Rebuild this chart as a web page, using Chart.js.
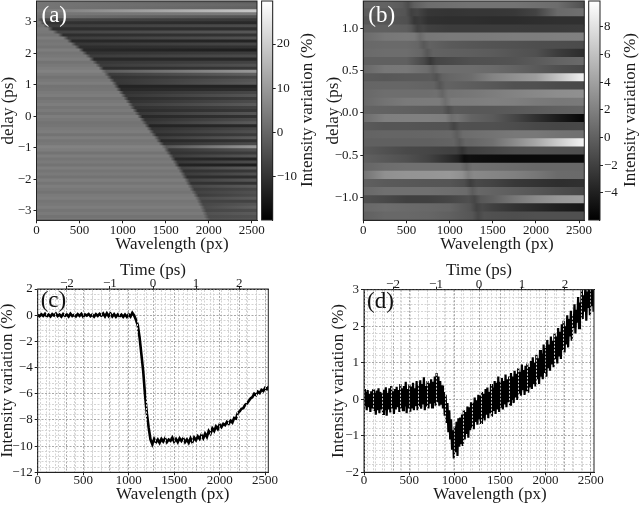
<!DOCTYPE html>
<html>
<head>
<meta charset="utf-8">
<script src="https://cdn.jsdelivr.net/npm/chart.js@4"></script>
<style>
    html, body { margin: 0; padding: 0; background: #fff; }
    #page { position: relative; width: 640px; height: 506px; overflow: hidden; }
    canvas { position: absolute; }
</style>
</head>
<body>
<div id="page">
    <canvas id="chartA" width="302" height="266" style="left:-2px;top:-10px"></canvas>
    <canvas id="barA" width="64" height="240" style="left:255px;top:-10px"></canvas>
    <canvas id="chartB" width="306" height="266" style="left:323px;top:-10px"></canvas>
    <canvas id="barB" width="59" height="240" style="left:582px;top:-10px"></canvas>
    <canvas id="chartC" width="312" height="247" style="left:-3px;top:260px"></canvas>
    <canvas id="chartD" width="312" height="247" style="left:328px;top:260px"></canvas>
</div>
<script>
// panel a: one row per delay step, value left of the front, just after it, and at the far edge
var aDelay = [3.61,3.514,3.418,3.322,3.226,3.13,3.034,2.938,2.842,2.746,2.65,2.554,2.458,2.362,2.266,2.17,2.074,1.978,1.882,1.786,1.69,1.594,1.498,1.402,1.306,1.21,1.114,1.018,0.922,0.826,0.73,0.634,0.538,0.442,0.346,0.25,0.154,0.058,-0.038,-0.134,-0.23,-0.326,-0.422,-0.518,-0.614,-0.71,-0.806,-0.902,-0.998,-1.094,-1.19,-1.286,-1.382,-1.478,-1.574,-1.67,-1.766,-1.862,-1.958,-2.054,-2.15,-2.246,-2.342,-2.438,-2.534,-2.63,-2.726,-2.822,-2.918,-3.014,-3.11,-3.206,-3.302];
var aFront = [0,0,0,0,0,0,40,70,110,162,220,280,340,385,430,475,520,560,600,640,680,715,750,780,815,845,875,905,930,955,985,1010,1040,1065,1090,1115,1145,1170,1200,1230,1255,1285,1310,1335,1365,1395,1420,1450,1480,1510,1535,1560,1585,1610,1630,1655,1680,1700,1720,1745,1765,1785,1805,1830,1850,1870,1890,1905,1925,1940,1955,1970,1985];
var aLeft = [4,3.5,3,4.5,3.5,3,3,4,2.5,4,3.5,2.5,4.5,3,3.5,2.5,4.5,3,3.5,4.5,2.5,3.5,4.5,5.5,4,2.5,3.5,4.5,2.5,3,4,4.5,2.5,3.5,4.5,3,4,2.5,4.5,3.5,2.5,3,4,4.5,2.5,4.5,3,3.5,5.5,4.5,2.5,4.5,3,4,2.5,4.5,3,4,2.5,4.5,3,4.5,3.5,2.5,4,4.5,3,3.5,4.5,3,4,2.5,3.5];
var aAfter = [3,3,3,4,3,2,-6,-10,-8,-11,-7,-11,-8,-12,-9,-11,-12,-10,-8,-12,-9,-8,-11,-2,-8,-10,-9,-9,-13,-12,-10,-9,-11,-10,-8,-10,-11,-9,-12,-10,-9,-13,-10,-9,-11,-8,-12,-10,-3,-9,-10,-8,-12,-9,-13,-7,-10,-8,-11,-7,-10,-6,-8,-7,-8,-5,-7,-6,-5,-6,-4,-5,-4];
var aEdge = [-2,0,-1,19,4,-4,-9,-12,-5,-11,-3,-10,-4,-13,-6,-10,-14,-8,-5,-12,-7,-4,-9,10,-1,-6,-3,-2,-13,-11,-6,-3,-8,-5,-2,-7,-9,-3,-10,-5,-2,-12,-6,-4,-8,-2,-10,-5,10,-4,-8,-3,-13,-5,-14,-2,-9,-4,-11,-3,-10,-2,-6,-4,-5,-2,-7,-3,-1,-5,-2,-4,-3];
var aTicks = [-3,-2,-1,0,1,2,3];

// panel b: delay rows against wavelength columns
var bDelay = [1.272,1.176,1.08,0.984,0.888,0.792,0.696,0.6,0.504,0.408,0.312,0.216,0.12,0.024,-0.072,-0.168,-0.264,-0.36,-0.456,-0.552,-0.648,-0.744,-0.84,-0.936,-1.032,-1.128,-1.224];
var bColumns = [0,250,500,750,1000,1250,1500,1750,2000,2250,2560];
var bDip = [520,555,590,625,660,700,740,775,810,850,885,915,950,985,1020,1050,1085,1115,1145,1170,1195,1215,1240,1265,1290,1310,1330];
var bRows = [
    [0.2,0.2,-0.5,0.8,1,1.2,1.2,1.2,1,0.8,-1],
    [-0.2,-0.3,-0.8,-2.6,-2.7,-2.6,-2.6,-2.5,-1.8,0.6,1],
    [-0.6,-0.6,-1,-3,-3.1,-3.1,-3.2,-3.2,-3.1,-3,-3],
    [0,0,-0.2,-2,-2.2,-2.2,-2.2,-2.2,-2.3,-2.3,-2.2],
    [0.7,1.4,1.6,1.4,1.6,1.6,1.7,1.8,1.8,1.9,2],
    [0.5,0.6,0.6,0.2,-0.4,-0.6,-0.8,-0.9,-1.1,-1.2,-1.3],
    [0.6,0.8,0.8,0.2,0,-0.1,-0.3,-0.7,-1,-2.2,-3.2],
    [0,0,0,-1.8,-1.4,-1,-0.9,-0.8,-0.4,0.2,0.6],
    [0.5,1.4,1.5,0.8,0.8,0.8,0.6,0.2,-0.4,-1,-1.5],
    [-0.3,-0.5,-0.4,-0.4,0.4,0.8,2.2,3,3.8,6,9],
    [0.3,0.4,0.4,0.2,0.1,-0.2,-0.5,-0.9,-1,-1.3,-1.5],
    [0.5,0.9,0.9,0.9,1.2,1.4,1.8,2.2,2.5,2.8,3],
    [0.5,1.2,1.6,1.7,1.7,1.8,2,1.9,1.6,1.5,1.6],
    [0.2,0.1,0,-0.2,-0.3,-0.5,-0.5,-0.4,-0.2,0,0.2],
    [0.8,1.9,2,2,1.8,0.2,-0.4,-1.6,-3,-4.2,-5.6],
    [-0.4,-0.7,-0.7,-0.8,-0.9,-1,-1,-1.2,-1.5,-1.6,-1.5],
    [0.2,0.3,0.3,0.4,0.5,0.9,1.2,1.5,1.5,1.2,1],
    [0,0,0,0,0.2,0.4,1,2.6,4.4,6.6,9.2],
    [-0.4,-0.9,-1.4,-1.6,-1.9,-2,-1.6,-1.2,-1,-1,-1],
    [0,-0.5,-1,-1.8,-3.2,-5,-5.2,-5.3,-5.3,-5.3,-5.3],
    [0.3,0.8,1,1,1,1,0.9,0.7,0.5,0.5,0.5],
    [1.2,3,3.2,3.3,3.5,2.6,2.3,2,1.4,0.7,0.6],
    [0,-0.4,-0.5,-0.6,-0.7,-1.4,-1.8,-2.5,-2.8,-3.1,-3],
    [0.5,1,1,1,0.9,0.6,0.2,-0.2,-0.6,-1.1,-1.6],
    [-1,-1.4,-2,-2,-1.6,-1,0,1.4,2.6,3.4,4],
    [0.5,0.8,0.6,0.5,0.3,-0.8,-2,-2.8,-3.4,-4,-4.6],
    [0,0.5,0.5,0.4,0,-0.6,-1,-1.1,-1,-1,-1]
];
var bTicks = [-1,-0.5,0,0.5,1];

// panel c: drop of the averaged trace, one value every 20 px
var cIntensity = [
    0.02,-0.08,0.07,-0.05,0.1,-0.09,0.04,-0.1,0.08,-0.03,0.12,-0.07,0.05,-0.11,0.09,-0.04,0.06,-0.1,0.11,-0.06,
    0.03,-0.09,0.08,-0.05,0.1,-0.12,0.06,-0.03,0.09,-0.08,0.04,-0.11,0.07,-0.06,0.1,-0.04,0.13,-0.09,0.15,-0.07,
    0.12,-0.1,0.08,-0.12,0.06,-0.09,0.04,-0.13,0.05,-0.12,0.07,-0.1,0.18,-0.02,-0.35,-0.75,-1.7,-3,-4.3,-6.1,
    -7.5,-8.6,-9.5,-9.85,-9.45,-9.7,-9.5,-9.75,-9.45,-9.65,-9.4,-9.7,-9.5,-9.6,-9.35,-9.65,-9.45,-9.7,-9.4,-9.6,
    -9.4,-9.7,-9.5,-9.75,-9.4,-9.7,-9.35,-9.55,-9.25,-9.45,-9.15,-9.4,-9.05,-9.3,-8.85,-9.05,-8.65,-8.85,-8.5,-8.7,
    -8.35,-8.55,-8.3,-8.4,-8.15,-8.3,-8.05,-8.2,-7.85,-7.9,-7.45,-7.35,-7.15,-7.1,-6.85,-6.75,-6.55,-6.35,-6.25,-6,
    -6.1,-5.85,-5.95,-5.7,-5.8,-5.55,-5.65,-5.45
];

// panel d: the trace swings between these two per 20 px step
var dUpper = [
    0.28,0.2,0.25,0.15,0.22,0.27,0.18,0.24,0.3,0.2,0.16,0.26,0.33,0.18,0.3,0.36,0.22,0.28,0.34,0.25,
    0.42,0.3,0.36,0.48,0.28,0.4,0.35,0.45,0.3,0.5,0.38,0.52,0.42,0.6,0.36,0.5,0.44,0.55,0.48,0.62,
    0.72,0.62,0.5,0.38,0.2,0.12,-0.1,-0.3,-0.55,-0.85,-0.75,-0.62,-0.52,-0.5,-0.42,-0.3,-0.35,-0.2,-0.22,-0.08,
    -0.1,0.05,-0.03,0.12,0.1,0.2,0.15,0.28,0.32,0.2,0.42,0.32,0.5,0.45,0.62,0.48,0.58,0.5,0.68,0.55,
    0.62,0.72,0.62,0.78,0.7,0.85,0.75,0.95,0.8,0.92,0.98,0.88,1.05,1.15,1,1.22,1.12,1.35,1.25,1.5,
    1.4,1.62,1.5,1.72,1.6,1.8,1.72,1.95,1.85,2.05,2.15,2,2.3,2.2,2.42,2.3,2.6,2.45,2.8,2.65,
    3.05,2.85,3.15,2.95,3.2,3,3.25,3.1
];
var dLower = [
    -0.18,-0.3,-0.22,-0.35,-0.25,-0.32,-0.42,-0.3,-0.38,-0.28,-0.4,-0.3,-0.45,-0.28,-0.36,-0.25,-0.4,-0.28,-0.22,-0.35,
    -0.25,-0.3,-0.2,-0.38,-0.25,-0.34,-0.22,-0.3,-0.18,-0.3,-0.2,-0.26,-0.14,-0.3,-0.2,-0.25,-0.12,-0.22,-0.1,-0.18,
    -0.08,-0.18,-0.15,-0.25,-0.45,-0.65,-0.9,-1.1,-1.35,-1.62,-1.45,-1.55,-1.3,-1.2,-1.28,-1.1,-0.95,-1.05,-0.85,-0.78,
    -0.82,-0.62,-0.7,-0.55,-0.65,-0.52,-0.58,-0.42,-0.52,-0.38,-0.48,-0.32,-0.4,-0.28,-0.35,-0.2,-0.28,-0.14,-0.22,-0.08,
    -0.15,-0.02,-0.1,0.05,-0.02,0.15,0.1,0.25,0.12,0.22,0.18,0.35,0.28,0.42,0.35,0.55,0.42,0.62,0.55,0.72,
    0.62,0.85,0.78,0.95,0.88,1.1,0.98,1.2,1.1,1.35,1.28,1.5,1.42,1.72,1.6,1.95,1.8,2.1,1.95,2.25,
    2.2,2.4,2.15,2.5,2.3,2.55,2.4,2.6
];

Chart.defaults.font.family = '"Liberation Serif", "Times New Roman", serif';
Chart.defaults.font.size = 13;
Chart.defaults.color = '#1a1a1a';
Chart.defaults.animation = false;
Chart.defaults.responsive = false;
Chart.defaults.events = [];
Chart.defaults.plugins.legend.display = false;
Chart.defaults.plugins.tooltip.enabled = false;

var AXIS_DARK = '#222';
var TITLE_FONT = { size: 17, lineHeight: 1.2 };

function minus(v) {
    return String(v).replace('-', '\u2212');
}

function isMultiple(v, step) {
    return Math.abs(v / step - Math.round(v / step)) < 1e-6;
}

function grayOf(value, low, high) {
    var g = Math.round(255 * Math.min(1, Math.max(0, (value - low) / (high - low))));
    return 'rgb(' + g + ',' + g + ',' + g + ')';
}

function pinSize(size) {
    return function (scale) {
        if (scale.isHorizontal()) {
            scale.height = size;
        } else {
            scale.width = size;
        }
    };
}

// tick positions at whole multiples of step, so labels land on round numbers
function ticksEvery(from, to, step) {
    return function (axis) {
        var list = [];
        for (var n = Math.round(from / step); n <= Math.round(to / step); n++) {
            list.push({ value: Math.round(n * step * 1000) / 1000 });
        }
        axis.ticks = list;
    };
}

// draws the axes box, panel letter and the titles that sit off the axis centre
var panelFrame = {
    id: 'panelFrame',
    afterDraw: function (chart, args, opts) {
        var a = chart.chartArea, ctx = chart.ctx;
        ctx.save();
        ctx.strokeStyle = AXIS_DARK;
        ctx.lineWidth = 1;
        ctx.strokeRect(a.left, a.top, a.right - a.left, a.bottom - a.top);
        ctx.textBaseline = 'middle';
        if (opts.letter) {
            ctx.fillStyle = opts.color;
            ctx.font = '23px "Liberation Serif"';
            ctx.fillText(opts.letter, a.left + opts.dx, a.top + opts.dy);
        }
        if (opts.note) {
            ctx.fillStyle = '#1a1a1a';
            ctx.font = '17px "Liberation Serif"';
            ctx.textAlign = 'center';
            ctx.translate(opts.note.x, opts.note.y);
            ctx.rotate(opts.note.turn || 0);
            ctx.fillText(opts.note.text, 0, 0);
        }
        ctx.restore();
    }
};

function heatChart(id, delays, low, high, yMin, yMax, yTicks, yFormat, xMax, stopsForRow, rowPx, padding, yWidth, frameOpts) {
    return new Chart(document.getElementById(id), {
        type: 'bar',
        data: {
            datasets: [{
                data: delays.map(function (d) { return { x: [0, xMax], y: d }; }),
                barThickness: rowPx,
                borderWidth: 0,
                backgroundColor: function (ctx) {
                    var xs = ctx.chart.scales.x;
                    var x0 = xs ? xs.getPixelForValue(0) : NaN;
                    var x1 = xs ? xs.getPixelForValue(xMax) : NaN;
                    if (ctx.type !== 'data' || !isFinite(x0) || !isFinite(x1)) { return '#777'; }
                    var grad = ctx.chart.ctx.createLinearGradient(x0, 0, x1, 0);
                    stopsForRow(ctx.dataIndex).forEach(function (s) {
                        grad.addColorStop(Math.min(1, Math.max(0, s[0] / xMax)), grayOf(s[1], low, high));
                    });
                    return grad;
                }
            }]
        },
        options: {
            indexAxis: 'y',
            layout: { padding: padding },
            scales: {
                x: {
                    type: 'linear', min: 0, max: xMax, position: 'bottom',
                    afterFit: pinSize(35.7),
                    afterBuildTicks: ticksEvery(0, 2500, 500),
                    grid: { drawOnChartArea: false, tickColor: AXIS_DARK, tickLength: 3 },
                    border: { color: AXIS_DARK },
                    ticks: { maxRotation: 0, autoSkip: false, padding: -0.5, callback: String }
                },
                y: {
                    type: 'linear', min: yMin, max: yMax, offset: false,
                    afterFit: pinSize(yWidth),
                    afterBuildTicks: function (axis) {
                        axis.ticks = yTicks.map(function (v) { return { value: v }; });
                    },
                    grid: { drawOnChartArea: false, offset: false, tickColor: AXIS_DARK, tickLength: 3 },
                    border: { color: AXIS_DARK },
                    ticks: { padding: 2, autoSkip: false, callback: yFormat },
                    title: { display: true, text: 'delay (ps)', font: TITLE_FONT, padding: 0 }
                }
            },
            plugins: { panelFrame: frameOpts }
        },
        plugins: [panelFrame]
    });
}

function colorBar(id, low, high, step, leftPad, axisWidth, titleX) {
    return new Chart(document.getElementById(id), {
        type: 'bar',
        data: {
            labels: [''],
            datasets: [{
                data: [[low, high]],
                barPercentage: 1,
                categoryPercentage: 1,
                borderWidth: 0,
                backgroundColor: function (ctx) {
                    var ys = ctx.chart.scales.y;
                    var y0 = ys ? ys.getPixelForValue(low) : NaN;
                    var y1 = ys ? ys.getPixelForValue(high) : NaN;
                    if (!isFinite(y0) || !isFinite(y1)) { return '#777'; }
                    var grad = ctx.chart.ctx.createLinearGradient(0, y0, 0, y1);
                    grad.addColorStop(0, '#000');
                    grad.addColorStop(1, '#fff');
                    return grad;
                }
            }]
        },
        options: {
            layout: { padding: { left: leftPad, top: 11, bottom: 10, right: 0 } },
            scales: {
                x: { display: false },
                y: {
                    type: 'linear', min: low, max: high, position: 'right',
                    afterFit: pinSize(axisWidth),
                    grid: { drawOnChartArea: false, tickColor: AXIS_DARK, tickLength: 3 },
                    border: { color: AXIS_DARK },
                    ticks: { stepSize: step, includeBounds: false, padding: 1, callback: minus }
                }
            },
            plugins: { panelFrame: { note: { text: 'Intensity variation (%)', x: titleX, y: 120, turn: -Math.PI / 2 } } }
        },
        plugins: [panelFrame]
    });
}

function dottedGrid(majorStep, onTop) {
    return {
        z: onTop ? 1 : 0,
        lineWidth: 1,
        tickLength: 3,
        color: function (ctx) {
            return ctx.tick && isMultiple(ctx.tick.value, majorStep) ? '#a8a8a8' : '#d4d4d4';
        },
        tickColor: function (ctx) {
            return ctx.tick && isMultiple(ctx.tick.value, majorStep) ? AXIS_DARK : 'rgba(0,0,0,0)';
        }
    };
}

function labelEvery(step) {
    return function (v) {
        return isMultiple(v, step) ? minus(Math.round(v)) : '';
    };
}

function traceChart(id, points, lineWidth, yMin, yMax, yMajor, yMinor, padding, yWidth, topHeight, frameOpts) {
    return new Chart(document.getElementById(id), {
        type: 'line',
        data: {
            datasets: [{
                data: points,
                xAxisID: 'x',
                yAxisID: 'y',
                borderColor: '#000',
                borderWidth: lineWidth,
                pointRadius: 0,
                tension: 0
            }]
        },
        options: {
            layout: { padding: padding },
            scales: {
                x: {
                    type: 'linear', min: 0, max: 2535, position: 'bottom',
                    afterFit: pinSize(34.7),
                    afterBuildTicks: ticksEvery(0, 2500, 100),
                    grid: dottedGrid(500, true),
                    // the border has to share the grid layer or it is drawn before its position is known
                    border: { z: 1, color: AXIS_DARK, dash: [2, 1.5] },
                    ticks: { autoSkip: false, maxRotation: 0, padding: -3, callback: labelEvery(500) }
                },
                xTop: {
                    type: 'linear', axis: 'x', min: -2.675, max: 2.675, position: 'top',
                    afterFit: pinSize(topHeight),
                    afterBuildTicks: ticksEvery(-2.6, 2.6, 0.2),
                    grid: dottedGrid(1, false),
                    border: { color: AXIS_DARK, dash: [2, 1.5] },
                    ticks: { autoSkip: false, maxRotation: 0, padding: -5.5, callback: labelEvery(1) },
                    title: { display: true, text: 'Time (ps)', font: TITLE_FONT, padding: 0 }
                },
                y: {
                    type: 'linear', min: yMin, max: yMax,
                    afterFit: pinSize(yWidth),
                    afterBuildTicks: ticksEvery(yMin, yMax, yMinor),
                    grid: dottedGrid(yMajor, false),
                    border: { color: AXIS_DARK, dash: [2, 1.5] },
                    ticks: { autoSkip: false, padding: 2, callback: labelEvery(yMajor) },
                    title: { display: true, text: 'Intensity variation (%)', font: TITLE_FONT, padding: 0 }
                }
            },
            plugins: { panelFrame: frameOpts }
        },
        plugins: [panelFrame]
    });
}

// row stops for panel a: flat up to the front, then a ramp to the edge value
function aStops(i) {
    var front = aFront[i];
    return [[0, aLeft[i]], [front - 30, aLeft[i]], [front + 30, aAfter[i]], [2560, aEdge[i]]].filter(function (s) { return s[0] >= 0; });
}

function bValueAt(row, wl) {
    for (var c = 1; c < bColumns.length; c++) {
        if (wl <= bColumns[c]) {
            var t = (wl - bColumns[c - 1]) / (bColumns[c] - bColumns[c - 1]);
            return row[c - 1] + t * (row[c] - row[c - 1]);
        }
    }
    return row[row.length - 1];
}

// row stops for panel b: the column values with the dark dip laid over them
function bStops(i) {
    var row = bRows[i], dip = bDip[i];
    var stops = bColumns.filter(function (c) { return Math.abs(c - dip) > 70; }).map(function (c) {
        return [c, bValueAt(row, c)];
    });
    stops.push([dip - 70, bValueAt(row, dip - 70)]);
    stops.push([dip, bValueAt(row, dip) - 0.8]);
    stops.push([dip + 70, bValueAt(row, dip + 70)]);
    return stops.sort(function (p, q) { return p[0] - q[0]; });
}

function cPoints() {
    return cIntensity.map(function (v, i) { return { x: i * 20, y: v }; });
}

function dPoints() {
    var pts = [];
    dUpper.forEach(function (v, i) {
        pts.push({ x: i * 20, y: v });
        pts.push({ x: i * 20 + 10, y: dLower[i] });
    });
    return pts;
}

heatChart('chartA', aDelay, -19.7, 29.7, -3.3, 3.66, aTicks, minus, 2560, aStops, 4.2,
    { left: 0, top: 11, right: 43, bottom: 0 }, 38.5,
    { letter: '(a)', color: '#fff', dx: 5, dy: 15, note: { text: 'Wavelength (px)', x: 174, y: 254.5 } });
colorBar('barA', -19.7, 29.7, 10, 6.6, 46.3, 53);

heatChart('chartB', bDelay, -5.95, 9.86, -1.27, 1.32, bTicks, function (v) { return minus(v.toFixed(1)); }, 2560, bStops, 9.3,
    { left: 0, top: 11, right: 44.7, bottom: 0 }, 40.3,
    { letter: '(b)', color: '#fff', dx: 5, dy: 15, note: { text: 'Wavelength (px)', x: 174, y: 254.5 } });
colorBar('barB', -5.95, 9.86, 2, 6.7, 41, 48.7);

traceChart('chartC', cPoints(), 2.6, -12, 2, 2, 0.4,
    { left: 0, top: 0, right: 40.7, bottom: 0 }, 40.7, 29,
    { letter: '(c)', color: '#111', dx: 3, dy: 12, note: { text: 'Wavelength (px)', x: 175.7, y: 235 } });
traceChart('chartD', dPoints(), 2.2, -2, 3, 1, 0.2,
    { left: 0, top: 0, right: 46, bottom: 0 }, 36, 29.7,
    { letter: '(d)', color: '#111', dx: 3, dy: 12, note: { text: 'Wavelength (px)', x: 162, y: 235 } });
</script>
</body>
</html>
